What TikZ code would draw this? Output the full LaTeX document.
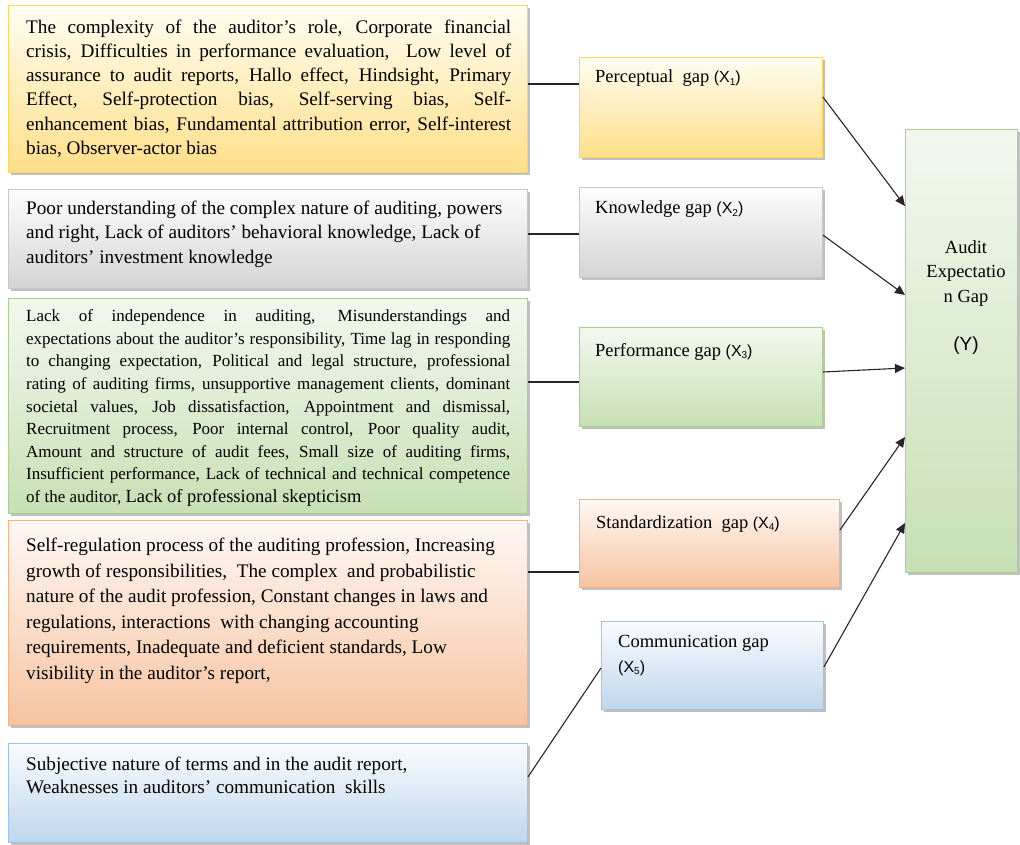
\documentclass[tikz,border=0pt]{standalone}
\usepackage{fontspec}
\setmainfont{Liberation Serif}
\newfontfamily\sansf{Liberation Sans}
\usetikzlibrary{shadows,arrows.meta}
\definecolor{yelB}{HTML}{FFD656}
\definecolor{yelT}{HTML}{FFFDF2}
\definecolor{yelD}{HTML}{FFDF88}
\definecolor{gryB}{HTML}{C8C8C8}
\definecolor{gryT}{HTML}{FDFDFD}
\definecolor{gryD}{HTML}{D4D4D4}
\definecolor{grnB}{HTML}{A9D08E}
\definecolor{grnT}{HTML}{F3F8EF}
\definecolor{grnD}{HTML}{C6E0B4}
\definecolor{orB}{HTML}{F4B183}
\definecolor{orT}{HTML}{FFF8F4}
\definecolor{orD}{HTML}{F6C3A0}
\definecolor{blB}{HTML}{9DC3E6}
\definecolor{blT}{HTML}{FAFCFE}
\definecolor{blD}{HTML}{BED6ED}
\definecolor{lineC}{HTML}{262626}
\newlength\jw \setlength\jw{485pt}
\newlength\jwg \setlength\jwg{484pt}
\newcommand\jl[1]{\makebox[\jw][s]{#1}}
\newcommand\jg[1]{\makebox[\jwg][s]{#1}}
\newcommand\xs[1]{{\sansf\fontsize{16}{18}\selectfont(X\raisebox{-0.15em}{\fontsize{10}{10}\selectfont #1})}}
\newcommand\fsA{\fontsize{19.2}{24.2}\selectfont}
\newcommand\fsG{\fontsize{17}{22.6}\selectfont}
\newcommand\fsO{\fontsize{19.2}{25.5}\selectfont}
\newcommand\fsB{\fontsize{19.2}{22.4}\selectfont}
\newcommand\fsM{\fontsize{18.5}{25}\selectfont}
\begin{document}
\begin{tikzpicture}[x=1pt,y=-1pt,
  shad/.style={drop shadow={shadow xshift=2.5pt,shadow yshift=-3pt,fill=black!45,opacity=0.55}},
  bx/.style={rectangle,inner sep=0pt,line width=0.9pt,shad,anchor=north west},
  yelbox/.style={bx,draw=yelB,top color=yelT,bottom color=yelD},
  grybox/.style={bx,draw=gryB,top color=gryT,bottom color=gryD},
  grnbox/.style={bx,draw=grnB,top color=grnT,bottom color=grnD},
  orbox/.style={bx,draw=orB,top color=orT,bottom color=orD},
  blbox/.style={bx,draw=blB,top color=blT,bottom color=blD},
  txt/.style={inner sep=0pt,anchor=north west,align=left},
  lbl/.style={inner sep=0pt,anchor=base west,font=\fsM},
  conn/.style={draw=lineC,line width=1.1pt},
  arr/.style={conn,-{Triangle[length=10pt,width=9pt]}}
]
\useasboundingbox (0,0) rectangle (1020,845);

% left boxes
\node[yelbox,minimum width=519pt,minimum height=167pt] (Y1) at (8,5) {};
\node[grybox,minimum width=519pt,minimum height=99pt] (G1) at (8,189) {};
\node[grnbox,minimum width=519pt,minimum height=215pt] (N1) at (8,298) {};
\node[orbox,minimum width=519pt,minimum height=205pt] (O1) at (8,520) {};
\node[blbox,minimum width=519pt,minimum height=99pt] (B1) at (8,743) {};

% middle boxes
\node[yelbox,minimum width=243pt,minimum height=100pt] (P) at (579,57) {};
\node[grybox,minimum width=243pt,minimum height=90pt] (K) at (579,187) {};
\node[grnbox,minimum width=243pt,minimum height=99pt] (F) at (579,327) {};
\node[orbox,minimum width=260pt,minimum height=88pt] (S) at (579,499) {};
\node[blbox,minimum width=222pt,minimum height=88pt] (C) at (601,621) {};

% right box
\node[grnbox,minimum width=112pt,minimum height=443pt] (Y) at (905,129) {};

% left texts
\node[txt,font=\fsA] (Y1t) at (26,19.5) {%
\jl{The complexity of the auditor's role, Corporate financial}\\
\jl{crisis, Difficulties in performance evaluation,\ \ Low level of}\\
\jl{assurance to audit reports, Hallo effect, Hindsight, Primary}\\
\jl{Effect, Self-protection bias, Self-serving bias, Self-}\\
\jl{enhancement bias, Fundamental attribution error, Self-interest}\\
bias, Observer-actor bias};

\node[txt,font=\fsA] (G1t) at (26,201) {%
Poor understanding of the complex nature of auditing, powers\\
and right, Lack of auditors' behavioral knowledge, Lack of\\
auditors' investment knowledge};

\node[txt,font=\fsG] (N1t) at (26,309.5) {%
\jg{Lack of independence in auditing, Misunderstandings and}\\
\jg{expectations about the auditor's responsibility, Time lag in responding}\\
\jg{to changing expectation, Political and legal structure, professional}\\
\jg{rating of auditing firms, unsupportive management clients, dominant}\\
\jg{societal values, Job dissatisfaction, Appointment and dismissal,}\\
\jg{Recruitment process, Poor internal control, Poor quality audit,}\\
\jg{Amount and structure of audit fees, Small size of auditing firms,}\\
\jg{Insufficient performance, Lack of technical and technical competence}\\
of the auditor, {\fontsize{18.5}{22.6}\selectfont Lack of professional skepticism}};

\node[txt,font=\fsO] (O1t) at (26,538) {%
Self-regulation process of the auditing profession, Increasing\\
growth of responsibilities,\ \ The complex\ \ and probabilistic\\
nature of the audit profession, Constant changes in laws and\\
regulations, interactions\ \ with changing accounting\\
requirements, Inadequate and deficient standards, Low\\
visibility in the auditor's report,};

\node[txt,font=\fsB] (B1t) at (26,757) {%
Subjective nature of terms and in the audit report,\\
Weaknesses in auditors' communication\ \ skills};

% middle labels
\node[lbl] (Pt) at (595,83) {Perceptual\ \ gap \xs{1}};
\node[lbl] (Kt) at (595,214) {Knowledge gap \xs{2}};
\node[lbl] (Ft) at (595,356) {Performance gap \xs{3}};
\node[lbl] (St) at (596,528) {Standardization\ \ gap \xs{4}};
\node[txt,font=\fsM] (Ct) at (618,635) {Communication gap\\ \xs{5}};

% right label
\node[inner sep=0pt,anchor=north,align=center,font=\fontsize{18.5}{24.5}\selectfont] (Yt) at (966,240)
  {Audit\\Expectatio\\n Gap\\[24pt]{\sansf\fontsize{19}{24}\selectfont (Y)}};

% connectors left -> middle
\draw[conn] (Y1.east |- 0,84) -- (P.west |- 0,84);
\draw[conn] (G1.east |- 0,234) -- (K.west |- 0,234);
\draw[conn] (N1.east |- 0,382) -- (F.west |- 0,382);
\draw[conn] (O1.east |- 0,572) -- (S.west |- 0,572);
\draw[conn] (B1.east |- 0,777) -- (C.west |- 0,668);

% arrows middle -> right
\draw[arr] (P.east |- 0,97) -- (Y.west |- 0,206);
\draw[arr] (K.east |- 0,235) -- (Y.west |- 0,295);
\draw[arr] (F.east |- 0,372) -- (Y.west |- 0,368);
\draw[arr] (S.east |- 0,530) -- (Y.west |- 0,437);
\draw[arr] (C.east |- 0,667) -- (Y.west |- 0,523);
\end{tikzpicture}
\end{document}
